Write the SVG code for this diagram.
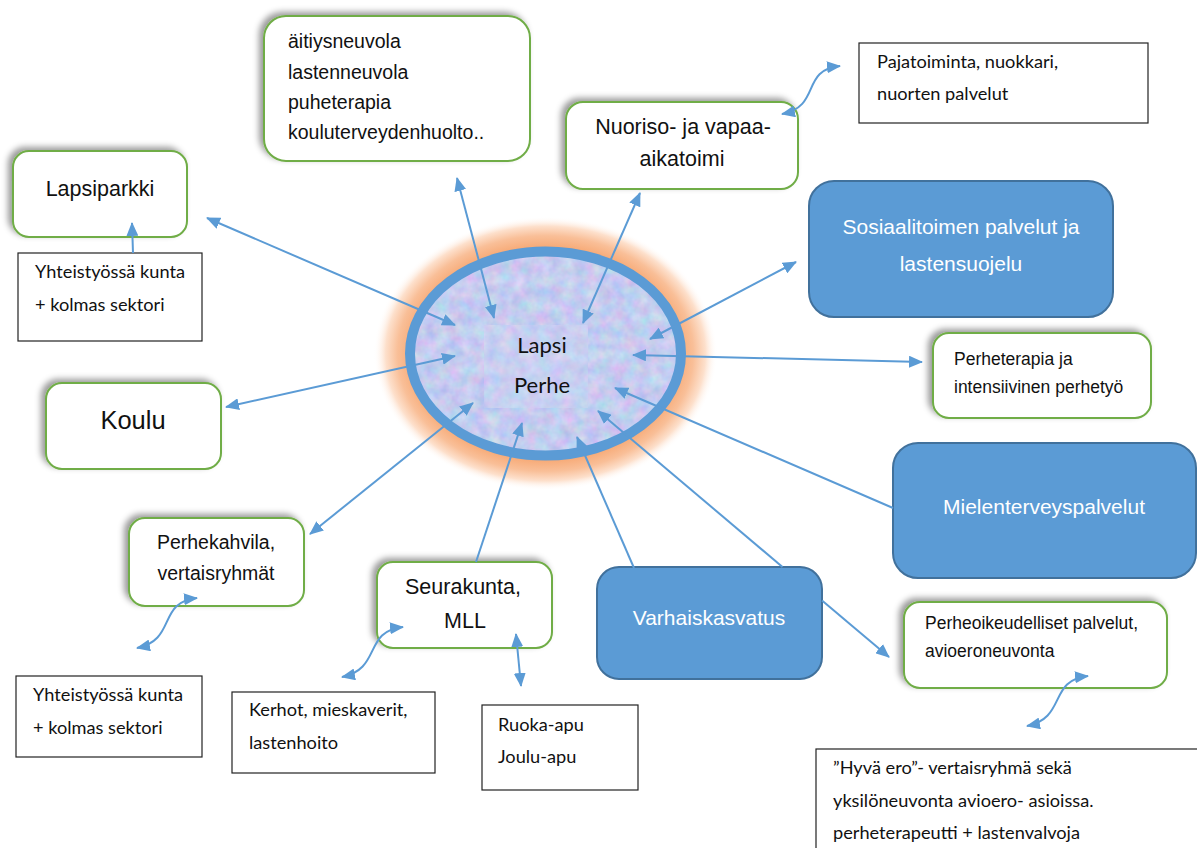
<svg xmlns="http://www.w3.org/2000/svg" width="1197" height="848" viewBox="0 0 1197 848">
<style>
.g{fill:#fff;stroke:#70ad47;stroke-width:2;filter:url(#sh)}
.b{fill:#5b9bd5;stroke:#41719c;stroke-width:2}
.p{fill:#fff;stroke:#222;stroke-width:1.2}
.a{font-family:"Liberation Sans",Arial,sans-serif;fill:#111}
.w{font-family:"Liberation Sans",Arial,sans-serif;fill:#fff}
.c{font-family:Lato,"Liberation Sans",sans-serif;fill:#111;font-size:18.2px}
.ln{fill:none;stroke:#5b9bd5;stroke-width:2;marker-end:url(#ah)}
.d{marker-start:url(#ah)}
.s{marker-end:none}
</style>
<defs>
<marker id="ah" markerUnits="userSpaceOnUse" markerWidth="14" markerHeight="12" refX="13" refY="6" orient="auto-start-reverse" viewBox="0 0 14 12">
<path d="M0,0 L14,6 L0,12 Z" fill="#5b9bd5"/>
</marker>
<filter id="sh" x="-20%" y="-20%" width="140%" height="140%">
<feDropShadow dx="-4" dy="-3" stdDeviation="3" flood-color="#000" flood-opacity="0.4"/>
</filter>
<filter id="tex" x="0" y="0" width="100%" height="100%" color-interpolation-filters="sRGB">
<feTurbulence type="fractalNoise" baseFrequency="0.08" numOctaves="3" seed="7"/>
<feColorMatrix type="matrix" values="0.28 0 0 0 0.63  0 0.22 0 0 0.69  0 0 0.1 0 0.89  0 0 0 0 1"/>
</filter>
<filter id="tex2" x="0" y="0" width="100%" height="100%" color-interpolation-filters="sRGB">
<feTurbulence type="fractalNoise" baseFrequency="0.08" numOctaves="3" seed="21"/>
<feColorMatrix type="matrix" values="0.28 0 0 0 0.65  0 0.22 0 0 0.71  0 0 0.1 0 0.9  0 0 0 0 1"/>
</filter>
<radialGradient id="glow" cx="50%" cy="50%" r="50%">
<stop offset="0.78" stop-color="#f7ab78"/>
<stop offset="0.86" stop-color="#f9bf98"/>
<stop offset="0.93" stop-color="#fde0cc"/>
<stop offset="1" stop-color="#fff" stop-opacity="0"/>
</radialGradient>
<clipPath id="ec"><ellipse cx="545.5" cy="353.5" rx="136" ry="102.5"/></clipPath>
</defs>
<rect width="1197" height="848" fill="#fff"/>

<g id="center">
<ellipse cx="545.5" cy="353.5" rx="172" ry="137" fill="url(#glow)"/>
<rect x="405" y="246" width="282" height="216" filter="url(#tex)" clip-path="url(#ec)"/>
<rect x="484" y="325" width="104" height="83" filter="url(#tex2)" opacity="0.7"/>
<ellipse cx="545.5" cy="353.5" rx="135.5" ry="102" fill="none" stroke="#5b9bd5" stroke-width="10"/>
<text class="c" x="542" y="353" text-anchor="middle" style="font-size:22px">Lapsi</text>
<text class="c" x="542" y="393" text-anchor="middle" style="font-size:22px">Perhe</text>
</g>

<g id="n-neuvola">
<rect class="g" x="264" y="16" width="266" height="145" rx="22"/>
<text class="a" x="288" y="48" style="font-size:19.5px">äitiysneuvola</text>
<text class="a" x="288" y="79" style="font-size:19.5px">lastenneuvola</text>
<text class="a" x="288" y="109" style="font-size:19.5px">puheterapia</text>
<text class="a" x="288" y="139" style="font-size:19.5px">kouluterveydenhuolto..</text>
</g>

<g id="n-nuoriso">
<rect class="g" x="566" y="102" width="232" height="87" rx="17"/>
<text class="a" x="683" y="134" text-anchor="middle" style="font-size:21.5px">Nuoriso- ja vapaa-</text>
<text class="a" x="682" y="166" text-anchor="middle" style="font-size:21.5px">aikatoimi</text>
</g>

<g id="n-pajatoiminta">
<rect class="p" x="859" y="43" width="289" height="80"/>
<text class="c" x="877" y="68">Pajatoiminta, nuokkari,</text>
<text class="c" x="877" y="100">nuorten palvelut</text>
</g>

<g id="n-lapsiparkki">
<rect class="g" x="13" y="151" width="174" height="86" rx="16"/>
<text class="a" x="100" y="196" text-anchor="middle" style="font-size:21.5px">Lapsiparkki</text>
</g>

<g id="n-yhteistyo1">
<rect class="p" x="18" y="253" width="184" height="88"/>
<text class="c" x="35" y="278">Yhteistyössä kunta</text>
<text class="c" x="35" y="311">+ kolmas sektori</text>
</g>

<g id="n-sosiaali">
<rect class="b" x="809" y="181" width="304" height="136" rx="25"/>
<text class="w" x="961" y="234" text-anchor="middle" style="font-size:21px">Sosiaalitoimen palvelut ja</text>
<text class="w" x="961" y="271" text-anchor="middle" style="font-size:21px">lastensuojelu</text>
</g>

<g id="n-perheterapia">
<rect class="g" x="933" y="333" width="218" height="85" rx="16"/>
<text class="a" x="954" y="365" style="font-size:17.5px">Perheterapia ja</text>
<text class="a" x="954" y="393" style="font-size:17.5px">intensiivinen perhetyö</text>
</g>

<g id="n-koulu">
<rect class="g" x="46" y="383" width="175" height="86" rx="16"/>
<text class="a" x="133" y="429" text-anchor="middle" style="font-size:25.5px">Koulu</text>
</g>

<g id="n-mielenterveys">
<rect class="b" x="893" y="443" width="303" height="135" rx="25"/>
<text class="w" x="1044" y="514" text-anchor="middle" style="font-size:21px">Mielenterveyspalvelut</text>
</g>

<g id="n-perhekahvila">
<rect class="g" x="129" y="518" width="175" height="88" rx="16"/>
<text class="a" x="216" y="549" text-anchor="middle" style="font-size:19.5px">Perhekahvila,</text>
<text class="a" x="216" y="580" text-anchor="middle" style="font-size:19.5px">vertaisryhmät</text>
</g>

<g id="n-seurakunta">
<rect class="g" x="377" y="562" width="175" height="86" rx="16"/>
<text class="a" x="463" y="594" text-anchor="middle" style="font-size:21.5px">Seurakunta,</text>
<text class="a" x="465" y="628" text-anchor="middle" style="font-size:21.5px">MLL</text>
</g>

<g id="n-varhaiskasvatus">
<rect class="b" x="597" y="567" width="225" height="112" rx="22"/>
<text class="w" x="709" y="625" text-anchor="middle" style="font-size:21px">Varhaiskasvatus</text>
</g>

<g id="n-perheoikeus">
<rect class="g" x="904" y="602" width="263" height="86" rx="16"/>
<text class="a" x="925" y="629" style="font-size:17.5px">Perheoikeudelliset palvelut,</text>
<text class="a" x="925" y="657" style="font-size:17.5px">avioeroneuvonta</text>
</g>

<g id="n-yhteistyo2">
<rect class="p" x="16" y="676" width="186" height="81"/>
<text class="c" x="33" y="701">Yhteistyössä kunta</text>
<text class="c" x="33" y="734">+ kolmas sektori</text>
</g>

<g id="n-kerhot">
<rect class="p" x="232" y="692" width="203" height="81"/>
<text class="c" x="249" y="716">Kerhot, mieskaverit,</text>
<text class="c" x="249" y="749">lastenhoito</text>
</g>

<g id="n-ruoka">
<rect class="p" x="482" y="705" width="156" height="85"/>
<text class="c" x="498" y="731">Ruoka-apu</text>
<text class="c" x="498" y="763">Joulu-apu</text>
</g>

<g id="n-hyvaero">
<rect class="p" x="816" y="749" width="390" height="110"/>
<text class="c" x="833" y="774">”Hyvä ero”- vertaisryhmä sekä</text>
<text class="c" x="833" y="807">yksilöneuvonta avioero- asioissa.</text>
<text class="c" x="833" y="839">perheterapeutti + lastenvalvoja</text>
</g>

<g id="connectors">
<line class="ln d" x1="457" y1="178" x2="494" y2="318"/>
<line class="ln d" x1="583" y1="323" x2="640" y2="193"/>
<line class="ln d" x1="207" y1="218" x2="455" y2="325"/>
<line class="ln d" x1="226" y1="407" x2="455" y2="356"/>
<line class="ln d" x1="310" y1="534" x2="473" y2="403"/>
<line class="ln" x1="476" y1="562" x2="522" y2="423"/>
<line class="ln" x1="634" y1="568" x2="577" y2="437"/>
<line class="ln d s" x1="598" y1="411" x2="782.5" y2="567"/>
<line class="ln" x1="822" y1="600.4" x2="889" y2="657"/>
<line class="ln" x1="893" y1="508" x2="615" y2="388"/>
<line class="ln d" x1="650" y1="339" x2="796" y2="262"/>
<line class="ln d" x1="633" y1="355" x2="922" y2="362"/>
<line class="ln d" x1="516" y1="634" x2="521" y2="686"/>
<line class="ln" x1="133" y1="253" x2="132" y2="223"/>
<path class="ln d" d="M782,114 C822,106 800,70 840,66"/>
<path class="ln d" d="M137,648 C177,640 157,602 197,598"/>
<path class="ln d" d="M342,677 C382,669 363,631 403,627"/>
<path class="ln d" d="M1027,726 C1067,718 1048,680 1088,676"/>
</g>
</svg>
